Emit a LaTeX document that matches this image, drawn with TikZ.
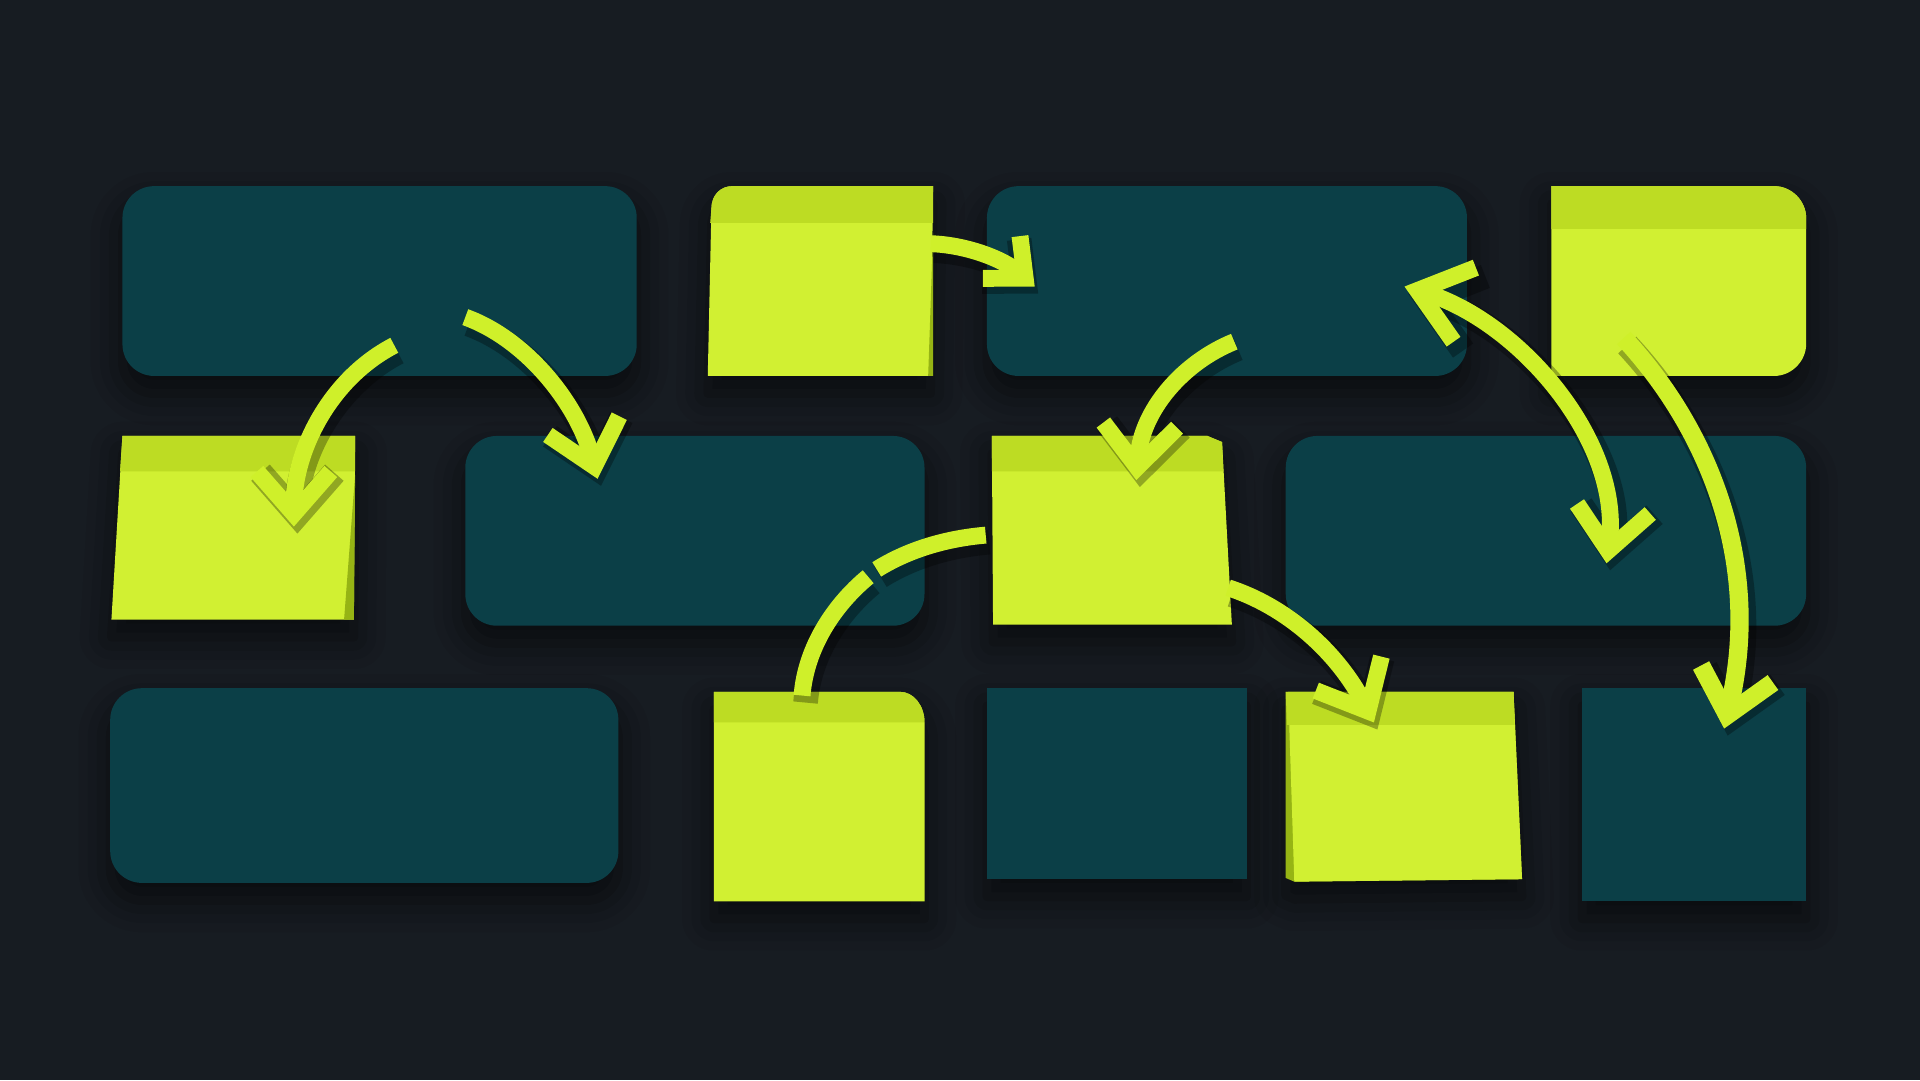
\documentclass[tikz,border=0pt]{standalone}
\usepackage{tikz}
\usetikzlibrary{arrows.meta,calc,shadows.blur}
\definecolor{nightbg}{RGB}{23,28,34}
\definecolor{deepteal}{RGB}{11,63,71}
\definecolor{notelime}{RGB}{209,240,50}
\definecolor{noteband}{RGB}{189,220,35}
\definecolor{notefold}{RGB}{150,180,20}
\definecolor{flowlime}{RGB}{207,240,42}
\tikzset{
  drop/.style={blur shadow={shadow xshift=0pt,shadow yshift=-5pt,shadow blur radius=9pt,shadow opacity=60}},
  card/.style={fill=deepteal,rounded corners=9pt,drop},
  slab/.style={fill=deepteal,drop},
  note/.style={fill=notelime,drop},
  band/.style={fill=noteband},
  fold/.style={fill=notefold},
  flow/.style={draw=flowlime,line width=4.8pt,
    preaction={draw=black,draw opacity=0.3,line width=7pt,transform canvas={xshift=1pt,yshift=-2pt}},
    -{Straight Barb[length=12pt,width=21pt]}},
}
\begin{document}
\begin{tikzpicture}[x=0.0122449cm,y=-0.0122449cm]
\path[use as bounding box,fill=nightbg] (0,0) rectangle (1568,882);
% dark cards
\fill[card] (100,152) rectangle (520,307);
\fill[card] (806,152) rectangle (1198,307);
\fill[card] (380,356) rectangle (755,511);
\fill[card] (1050,356) rectangle (1475,511);
\fill[card] (90,562) rectangle (505,721);
\fill[slab] (806,562) rectangle (1018,718);
\fill[slab] (1292,562) rectangle (1475,736);
% sticky notes
\fill[note] (578,307) -- (581,170) .. controls (581,160) and (588,152) .. (598,152) -- (762,152) -- (760,307) -- cycle;
\fill[band] (580,182) -- (581,170) .. controls (581,160) and (588,152) .. (598,152) -- (762,152) -- (762,182) -- cycle;
\fill[fold] (762,190) -- (762,307) -- (758,307) -- cycle;
\fill[note] (1267,152) -- (1449,152) .. controls (1463,152) and (1475,164) .. (1475,178) -- (1475,281) .. controls (1475,295) and (1463,307) .. (1449,307) -- (1267,307) -- cycle;
\fill[band] (1267,152) -- (1449,152) .. controls (1463,152) and (1475,164) .. (1475,178) -- (1475,187) -- (1267,187) -- cycle;
\fill[note] (100,356) -- (290,356) -- (289,506) -- (91,506) -- cycle;
\fill[band] (100,356) -- (290,356) -- (290,385) -- (98,385) -- cycle;
\fill[fold] (290,388) -- (289,506) -- (281,506) -- cycle;
\fill[note] (810,356) -- (986,356) -- (998,361) -- (1006,510) -- (811,510) -- cycle;
\fill[band] (810,356) -- (986,356) -- (998,361) -- (999,385) -- (810,385) -- cycle;
\fill[note] (583,565) -- (735,565) .. controls (746,565) and (755,576) .. (755,590) -- (755,736) -- (583,736) -- cycle;
\fill[band] (583,565) -- (735,565) .. controls (746,565) and (755,576) .. (755,590) -- (583,590) -- cycle;
\fill[fold,drop] (1050,565) -- (1236,565) -- (1243,718) -- (1057,720) -- (1050,717) -- cycle;
\fill[notelime] (1052,565) -- (1236,565) -- (1243,718) -- (1057,720) -- cycle;
\fill[band] (1050,565) -- (1236,565) -- (1237,592) -- (1051,592) -- cycle;
% arrow ends
\coordinate (A1s) at (322,282);
\coordinate (A1e) at (240,430);
\coordinate (A2s) at (380,259);
\coordinate (A2e) at (488,391);
\coordinate (A3s) at (760,199);
\coordinate (A3e) at (845,234);
\coordinate (A4s) at (1008,279);
\coordinate (A4e) at (928,392);
\coordinate (A5s) at (1147,234);
\coordinate (A5e) at (1312,460);
\coordinate (A6s) at (1326,276);
\coordinate (A6e) at (1408,595);
\coordinate (A7s) at (805,437);
\coordinate (A7g) at (716,465);
\coordinate (A7h) at (709,471);
\coordinate (A7e) at (655,568);
\coordinate (A8s) at (1003,480);
\coordinate (A8e) at (1122,590);
\draw[flow] (A1s) .. controls (268,310) and (240,370) .. (A1e);
\draw[flow] (A2s) .. controls (430,277) and (472,330) .. (A2e);
\draw[flow,-{Straight Barb[length=9pt,width=16pt]}] (A3s) .. controls (790,200) and (820,212) .. (A3e);
\draw[flow] (A4s) .. controls (966,296) and (932,335) .. (A4e);
\draw[flow,{Straight Barb[length=14pt,width=22pt]}-{Straight Barb[length=12pt,width=21pt]}] (A5s) .. controls (1240,262) and (1325,360) .. (A5e);
\draw[flow,line width=5.2pt] (A6s) .. controls (1395,350) and (1440,460) .. (A6e);
\draw[flow,-] (A7s) .. controls (770,440) and (740,450) .. (A7g);
\draw[flow,-] (A7h) .. controls (680,495) and (658,530) .. (A7e);
\draw[flow] (A8s) .. controls (1050,495) and (1092,532) .. (A8e);
\end{tikzpicture}
\end{document}
